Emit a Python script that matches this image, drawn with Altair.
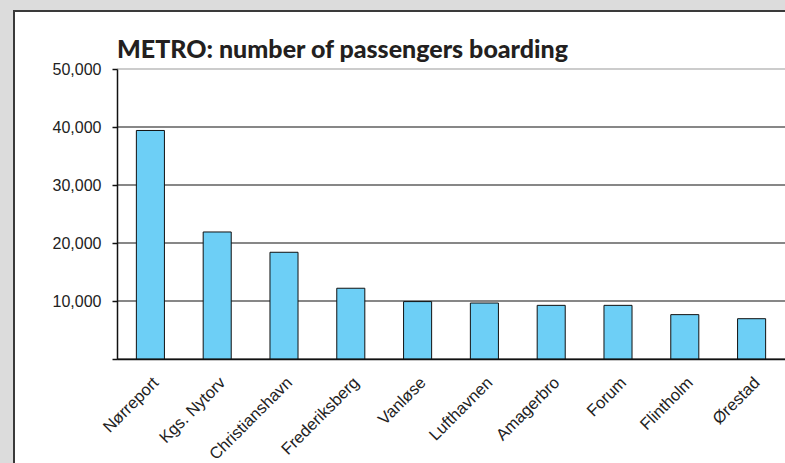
import altair as alt
import pandas as pd

stations = ["Nørreport", "Kgs. Nytorv", "Christianshavn", "Frederiksberg", "Vanløse",
            "Lufthavnen", "Amagerbro", "Forum", "Flintholm", "Ørestad"]
passengers = [39400, 21900, 18400, 12200, 9900, 9650, 9250, 9250, 7650, 6950]
y_ticks = [0, 10000, 20000, 30000, 40000, 50000]
grid_colors = ["#111111", "#111111", "#111111", "#111111", "#111111", "#9a9a9a"]
title_text = "METRO: number of passengers boarding"

df = pd.DataFrame({"station": stations, "passengers": passengers})
grid_df = pd.DataFrame({"value": y_ticks, "color": grid_colors})

W, H = 668, 290

panel = alt.Chart(alt.Data(values=[{}])).mark_rect(
    fill="white", stroke="#3a3a3a", strokeWidth=2
).encode(
    x=alt.value(-103), y=alt.value(-58), x2=alt.value(W + 10), y2=alt.value(H + 120)
)

title = alt.Chart(pd.DataFrame({"t": [title_text]})).mark_text(
    align="left", baseline="alphabetic", font="Lato", fontSize=25,
    fontWeight=900, color="#231f20"
).encode(x=alt.value(0), y=alt.value(-11), text="t:N")

y_scale = alt.Scale(domain=[0, 50000], nice=False)
y_axis = alt.Axis(title=None, values=y_ticks,
                  labelExpr="datum.value == 0 ? '' : format(datum.value, ',')",
                  labelFont="Liberation Sans", labelFontSize=16,
                  labelColor="#222222", tickSize=5, tickColor="#111111",
                  tickWidth=1.5, labelPadding=11, domainColor="#111111",
                  domainWidth=1.5, grid=False, zindex=1)

grid = alt.Chart(grid_df).mark_rule(strokeWidth=1.2).encode(
    y=alt.Y("value:Q", scale=y_scale, axis=y_axis),
    x=alt.value(0), x2=alt.value(W),
    color=alt.Color("color:N", scale=None),
)

bars = alt.Chart(df).mark_bar(
    fill="#6dcff6", stroke="#111111", strokeWidth=1
).encode(
    x=alt.X("station:N", sort=None,
            scale=alt.Scale(paddingInner=0.58, paddingOuter=0.29),
            axis=alt.Axis(title=None, labelAngle=-45, labelFont="Liberation Sans",
                          labelFontSize=16.5, labelColor="#222222", ticks=False,
                          labelPadding=15, domainColor="#111111", domainWidth=1.5,
                          zindex=1)),
    y=alt.Y("passengers:Q", scale=y_scale, axis=y_axis),
)

chart = alt.layer(panel, title, grid, bars).properties(
    width=W, height=H,
    autosize=alt.AutoSizeParams(type="none"),
    padding={"left": 117, "top": 69, "right": 0, "bottom": 104},
    background="#dcdcdc",
).configure_view(stroke=None)

chart.save("out.html", embed_options={"renderer": "svg", "actions": False})
